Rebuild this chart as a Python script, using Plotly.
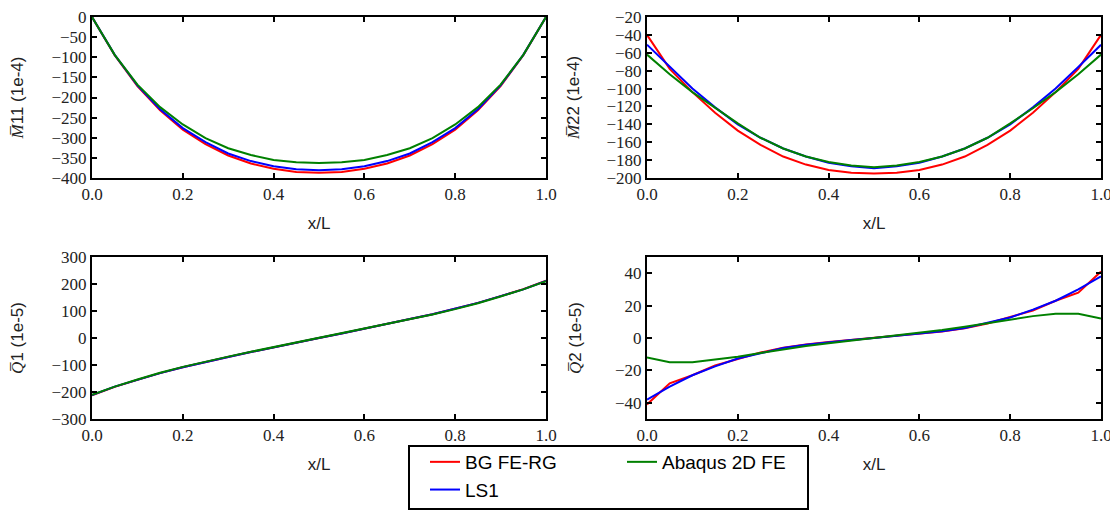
import plotly.graph_objects as go

x = [0.0, 0.05, 0.1, 0.15, 0.2, 0.25, 0.3, 0.35, 0.4, 0.45, 0.5,
     0.55, 0.6, 0.65, 0.7, 0.75, 0.8, 0.85, 0.9, 0.95, 1.0]

# M11 (1e-4)
m11_bg = [0, -95, -172, -232, -280, -316, -344, -364, -377, -385, -387,
          -385, -377, -364, -344, -316, -280, -232, -172, -95, 0]
m11_ls1 = [0, -94, -170, -229, -276, -311, -339, -358, -371, -378, -381,
           -378, -371, -358, -339, -311, -276, -229, -170, -94, 0]
m11_abq = [0, -94, -168, -224, -267, -301, -326, -343, -355, -361, -363,
           -361, -355, -343, -326, -301, -267, -224, -168, -94, 0]

# M22 (1e-4)
m22_bg = [-40, -78, -104, -127, -147, -163, -176, -185, -191, -194, -195,
          -194, -191, -185, -176, -163, -147, -127, -104, -78, -40]
m22_ls1 = [-51, -76, -100, -121, -140, -155, -167, -176, -183, -187, -189,
           -187, -183, -176, -167, -155, -140, -121, -100, -76, -51]
m22_abq = [-62, -84, -104, -122, -139, -155, -167, -176, -182, -186, -188,
           -186, -182, -176, -167, -155, -139, -122, -104, -84, -62]

# Q1 (1e-5)
q1_bg = [-212, -181, -155, -130, -108, -88, -70, -52, -34, -17, 0,
         17, 34, 52, 70, 88, 108, 130, 155, 181, 212]
q1_ls1 = [-211, -180, -155, -130, -108, -88, -70, -52, -34, -17, 0,
          17, 34, 52, 70, 88, 108, 130, 155, 180, 211]
q1_abq = [-210, -180, -154, -129, -107, -87, -69, -51, -34, -17, 0,
          17, 34, 51, 69, 87, 107, 129, 154, 180, 210]

# Q2 (1e-5)
q2_bg = [-41, -28, -23, -17, -13, -9, -6, -4, -2.5, -1.2, 0,
         1.2, 2.5, 4, 6, 9, 13, 17, 23, 28, 41]
q2_ls1 = [-38, -30, -23, -17.5, -12.7, -9.3, -6.2, -4.2, -2.6, -1.3, 0,
          1.3, 2.6, 4.2, 6.2, 9.3, 12.7, 17.5, 23, 30, 38]
q2_abq = [-12, -15, -15, -13.5, -11.6, -9.2, -7, -5, -3.2, -1.6, 0,
          1.6, 3.2, 5, 7, 9.2, 11.6, 13.5, 15, 15, 12]

names = ["BG FE-RG", "LS1", "Abaqus 2D FE"]
colors = ["#ff0000", "#0000ff", "#008000"]

panels = [
    ("x", "y", [m11_bg, m11_ls1, m11_abq]),
    ("x2", "y2", [m22_bg, m22_ls1, m22_abq]),
    ("x3", "y3", [q1_bg, q1_ls1, q1_abq]),
    ("x4", "y4", [q2_bg, q2_ls1, q2_abq]),
]

fig = go.Figure()
for pi, (xa, ya, series) in enumerate(panels):
    for si, vals in enumerate(series):
        fig.add_trace(go.Scatter(
            x=x, y=vals, mode="lines", name=names[si],
            line=dict(color=colors[si], width=2),
            xaxis=xa, yaxis=ya,
            showlegend=(pi == 0),
            legend="legend2" if si == 2 else "legend",
        ))

W, H = 1118, 513
OFF = 8  # page body margin
def px_x(p):
    return (p - OFF) / W
def px_y(p):
    return 1 - (p - OFF) / H

tickfont = dict(family="Liberation Serif", size=17, color="#222")
titlefont = dict(family="Liberation Sans", size=17, color="#222")

def xaxis(dom, anchor):
    return dict(domain=dom, anchor=anchor, range=[0, 1], tickvals=[0, 0.2, 0.4, 0.6, 0.8, 1.0],
                ticktext=["0.0", "0.2", "0.4", "0.6", "0.8", "1.0"],
                showline=True, linecolor="black", linewidth=2, mirror="allticks",
                ticks="inside", ticklen=5, tickwidth=1.5, tickcolor="black",
                showgrid=False, zeroline=False, tickfont=tickfont, automargin=False,
                ticklabeloverflow="allow",
                title=dict(text="x/L", font=titlefont, standoff=14))

def yaxis(dom, anchor, rng, tv, title, standoff):
    return dict(domain=dom, anchor=anchor, range=rng, tickvals=tv,
                showline=True, linecolor="black", linewidth=2, mirror="allticks",
                ticks="inside", ticklen=5, tickwidth=1.5, tickcolor="black",
                showgrid=False, zeroline=False, tickfont=tickfont, automargin=False,
                ticklabeloverflow="allow",
                title=dict(text=title, font=titlefont, standoff=standoff))

xd1 = [px_x(92), px_x(546)]
xd2 = [px_x(647), px_x(1101)]
yd_top = [px_y(178), px_y(17)]
yd_bot = [px_y(419), px_y(257)]

M = '<span style="font-family:Liberation Serif"><i>M\u0305</i></span>'
Q = '<span style="font-family:Liberation Serif"><i>Q\u0305</i></span>'

fig.update_layout(
    width=W, height=H, margin=dict(l=0, r=0, t=0, b=0, autoexpand=False),
    paper_bgcolor="white", plot_bgcolor="white",
    xaxis=xaxis(xd1, "y"),
    yaxis=yaxis(yd_top, "x", [-400, 0], list(range(-400, 1, 50)), M + "11 (1e-4)", 30),
    xaxis2=xaxis(xd2, "y2"),
    yaxis2=yaxis(yd_top, "x2", [-200, -20], list(range(-200, -19, 20)), M + "22 (1e-4)", 23),
    xaxis3=xaxis(xd1, "y3"),
    yaxis3=yaxis(yd_bot, "x3", [-300, 300], list(range(-300, 301, 100)), Q + "1 (1e-5)", 30),
    xaxis4=xaxis(xd2, "y4"),
    yaxis4=yaxis(yd_bot, "x4", [-50, 50], [-40, -20, 0, 20, 40], Q + "2 (1e-5)", 29),
    legend=dict(x=px_x(425), y=px_y(443), xanchor="left", yanchor="top",
                orientation="v", bgcolor="rgba(0,0,0,0)", borderwidth=0,
                font=dict(family="Liberation Sans", size=19, color="black"),
                tracegroupgap=0, itemwidth=30),
    legend2=dict(x=px_x(622), y=px_y(443), xanchor="left", yanchor="top",
                 orientation="v", bgcolor="rgba(0,0,0,0)", borderwidth=0,
                 font=dict(family="Liberation Sans", size=19, color="black"),
                 itemwidth=30),
    shapes=[dict(type="rect", xref="paper", yref="paper",
                 x0=px_x(409), x1=px_x(808), y0=px_y(509), y1=px_y(446),
                 line=dict(color="black", width=2), fillcolor="rgba(0,0,0,0)", layer="below")],
)

fig.write_html("out.html")
